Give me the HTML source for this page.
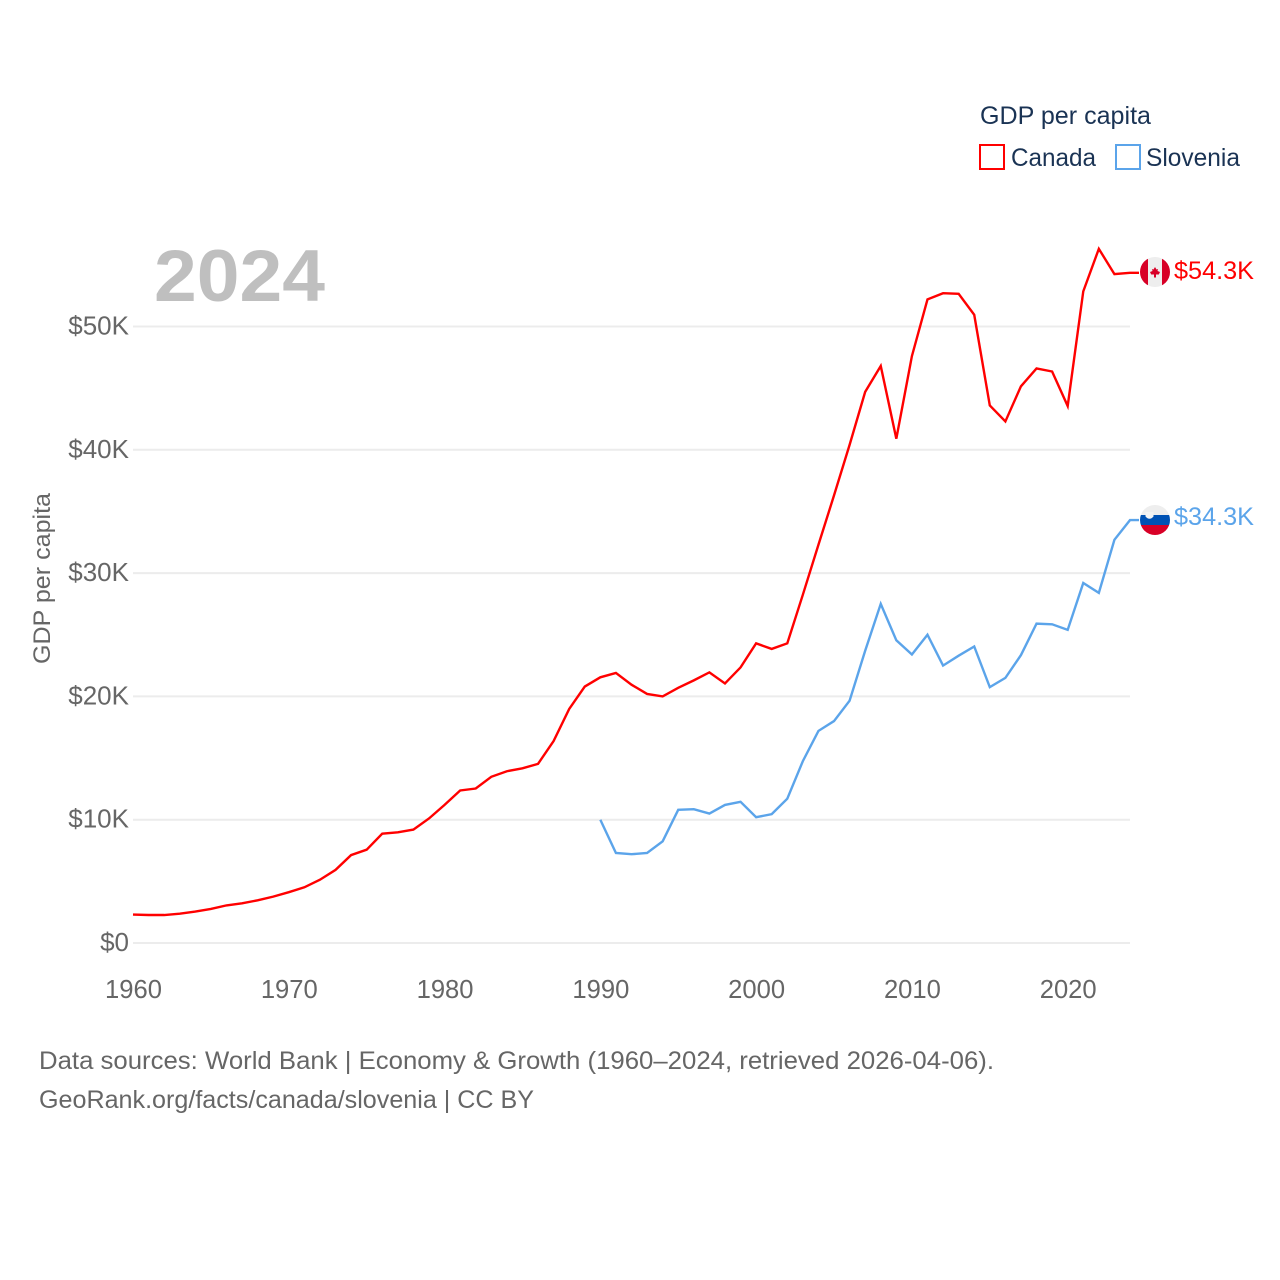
<!DOCTYPE html>
<html lang="en">
<head>
<meta charset="utf-8">
<title>GDP per capita: Canada and Slovenia</title>
<style>
html,body{margin:0;padding:0;background:#fff;width:1280px;height:1280px;overflow:hidden}
svg{display:block;font-family:"Liberation Sans",sans-serif}
</style>
</head>
<body>
<svg id="chart" width="1280" height="1280" viewBox="0 0 1280 1280" xmlns="http://www.w3.org/2000/svg">
  <rect x="0" y="0" width="1280" height="1280" fill="#ffffff"/>
  <g id="grid"></g>
  <g id="yticks"></g>
  <g id="xticks"></g>
  <text x="154" y="301" font-size="73" font-weight="700" fill="#bfbfbf" textLength="171" lengthAdjust="spacingAndGlyphs">2024</text>
  <text transform="translate(50,664) rotate(-90)" font-size="24" fill="#666666" textLength="171" lengthAdjust="spacingAndGlyphs">GDP per capita</text>
  <g id="series"></g>

  <g>
    <text x="980" y="124" font-size="25" fill="#1a3354" textLength="171" lengthAdjust="spacingAndGlyphs">GDP per capita</text>
    <g>
      <rect x="980" y="145" width="24" height="24" fill="#ffffff" stroke="#ff0000" stroke-width="2"/>
      <text x="1011" y="166" font-size="25" fill="#1a3354" textLength="85" lengthAdjust="spacingAndGlyphs">Canada</text>
    </g>
    <g>
      <rect x="1116" y="145" width="24" height="24" fill="#ffffff" stroke="#5ba4ea" stroke-width="2"/>
      <text x="1146" y="166" font-size="25" fill="#1a3354" textLength="94" lengthAdjust="spacingAndGlyphs">Slovenia</text>
    </g>
  </g>

  <defs>
    <clipPath id="flag-clip-ca"><circle cx="1155" cy="272" r="15"/></clipPath>
    <clipPath id="flag-clip-si"><circle cx="1155" cy="520" r="15"/></clipPath>
  </defs>
  <g clip-path="url(#flag-clip-ca)">
    <rect x="1140" y="257" width="30" height="30" fill="#eeeeee"/>
    <rect x="1140" y="257" width="8" height="30" fill="#d80027"/>
    <rect x="1162" y="257" width="8" height="30" fill="#d80027"/>
    <polygon points="1155,267 1156.500,269.500 1158,269 1157.500,271 1160,272 1158.800,274.500 1156,274.500 1156,277.500 1154,277.500 1154,274.500 1151.200,274.500 1150,272 1152.500,271 1152,269 1153.500,269.500" fill="#d80027"/>
  </g>
  <g clip-path="url(#flag-clip-si)">
    <rect x="1140" y="505" width="30" height="10" fill="#eeeeee"/>
    <rect x="1140" y="515" width="30" height="10" fill="#0052b4"/>
    <rect x="1140" y="525" width="30" height="10" fill="#d80027"/>
    <path d="M1145.500 512h8v4.500q-4 4.500-8 0z" fill="#f4f4f4"/>
  </g>
  <text x="1174" y="279" font-size="25" fill="#ff0000" textLength="80" lengthAdjust="spacingAndGlyphs">$54.3K</text>
  <text x="1174" y="525" font-size="25" fill="#5ba4ea" textLength="80" lengthAdjust="spacingAndGlyphs">$34.3K</text>

  <g>
    <text x="39" y="1069" font-size="25" fill="#666666" textLength="955" lengthAdjust="spacingAndGlyphs">Data sources: World Bank | Economy &amp; Growth (1960–2024, retrieved 2026-04-06).</text>
    <text x="39" y="1108" font-size="25" fill="#666666" textLength="495" lengthAdjust="spacingAndGlyphs">GeoRank.org/facts/canada/slovenia | CC BY</text>
  </g>
</svg>
<script>
const startYear = 1960;
const canadaStartYear = 1960;
const sloveniaStartYear = 1990;
const yTickValues = [0, 10, 20, 30, 40, 50];
const yTickLabels = ["$0", "$10K", "$20K", "$30K", "$40K", "$50K"];
const xTickYears = [1960, 1970, 1980, 1990, 2000, 2010, 2020];
const canadaValues = [2.31,2.27,2.27,2.38,2.55,2.76,3.05,3.22,3.46,3.76,4.12,4.52,5.13,5.93,7.13,7.57,8.87,8.98,9.2,10.1,11.2,12.37,12.53,13.48,13.93,14.17,14.53,16.38,18.98,20.8,21.55,21.9,20.95,20.2,20.0,20.7,21.3,21.95,21.05,22.35,24.3,23.85,24.3,28.25,32.3,36.3,40.4,44.7,46.8,40.9,47.6,52.2,52.7,52.65,50.95,43.6,42.3,45.15,46.6,46.35,43.55,52.85,56.3,54.25,54.35];
const sloveniaValues = [10.0,7.3,7.2,7.3,8.25,10.8,10.85,10.5,11.2,11.45,10.2,10.45,11.7,14.75,17.2,18.0,19.65,23.7,27.5,24.55,23.4,25.0,22.5,23.3,24.05,20.75,21.5,23.35,25.9,25.85,25.4,29.2,28.4,32.7,34.3];

const SVG_NS = "http://www.w3.org/2000/svg";
function xScale(year) { return 133 + (year - startYear) * (997 / 64); }
function yScale(value) { return 943 - value * (616.5 / 50); }

const gridGroup = document.getElementById("grid");
const yGroup = document.getElementById("yticks");
const xGroup = document.getElementById("xticks");
const seriesGroup = document.getElementById("series");

yTickValues.forEach(function (value, i) {
  const line = document.createElementNS(SVG_NS, "line");
  
  
  line.setAttribute("x1", 133);
  line.setAttribute("x2", 1130);
  line.setAttribute("y1", yScale(value));
  line.setAttribute("y2", yScale(value));
  line.setAttribute("stroke", "#ececec");
  line.setAttribute("stroke-width", "2");
  gridGroup.appendChild(line);

  const label = document.createElementNS(SVG_NS, "text");
  
  
  label.setAttribute("x", 129);
  label.setAttribute("y", yScale(value) + 8);
  label.setAttribute("text-anchor", "end");
  label.setAttribute("font-size", "26");
  label.setAttribute("fill", "#666666");
  label.textContent = yTickLabels[i];
  yGroup.appendChild(label);
});

xTickYears.forEach(function (year) {
  const label = document.createElementNS(SVG_NS, "text");
  
  
  label.setAttribute("x", xScale(year) + 0.5);
  label.setAttribute("y", 998);
  label.setAttribute("text-anchor", "middle");
  label.setAttribute("font-size", "25.6");
  label.setAttribute("fill", "#666666");
  label.textContent = String(year);
  xGroup.appendChild(label);
});

function linePoints(values, firstYear) {
  const points = values.map(function (value, i) {
    return xScale(firstYear + i).toFixed(2) + "," + yScale(value).toFixed(2);
  });
  const lastValue = values[values.length - 1];
  points.push((xScale(firstYear + values.length - 1) + 9).toFixed(2) + "," + yScale(lastValue).toFixed(2));
  return points.join(" ");
}

const canadaLine = document.createElementNS(SVG_NS, "polyline");


canadaLine.setAttribute("points", linePoints(canadaValues, canadaStartYear));
canadaLine.setAttribute("fill", "none");
canadaLine.setAttribute("stroke", "#ff0000");
canadaLine.setAttribute("stroke-width", "2.4");
canadaLine.setAttribute("stroke-linejoin", "miter");
seriesGroup.appendChild(canadaLine);

const sloveniaLine = document.createElementNS(SVG_NS, "polyline");


sloveniaLine.setAttribute("points", linePoints(sloveniaValues, sloveniaStartYear));
sloveniaLine.setAttribute("fill", "none");
sloveniaLine.setAttribute("stroke", "#5ba4ea");
sloveniaLine.setAttribute("stroke-width", "2.4");
sloveniaLine.setAttribute("stroke-linejoin", "miter");
seriesGroup.appendChild(sloveniaLine);
</script>
</body>
</html>
